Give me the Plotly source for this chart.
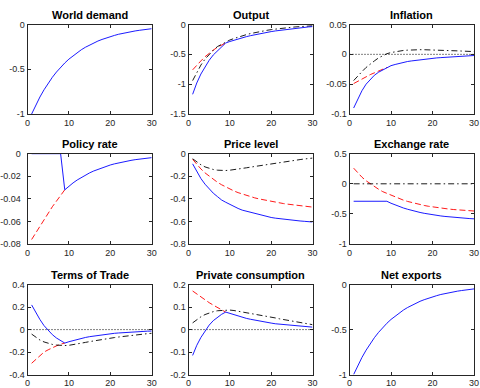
import plotly.graph_objects as go

# ---------------- data ----------------
periods = list(range(1, 31))

world_demand = [-1.000, -0.900, -0.810, -0.729, -0.656, -0.590, -0.531, -0.478, -0.430, -0.387,
                -0.349, -0.314, -0.282, -0.254, -0.229, -0.206, -0.185, -0.167, -0.150, -0.135,
                -0.122, -0.109, -0.098, -0.089, -0.080, -0.072, -0.065, -0.058, -0.052, -0.047]

output_blue = [-1.17, -0.98, -0.83, -0.71, -0.60, -0.51, -0.44, -0.37, -0.31, -0.285,
               -0.262, -0.241, -0.222, -0.204, -0.187, -0.171, -0.157, -0.144, -0.131, -0.119,
               -0.108, -0.098, -0.088, -0.079, -0.070, -0.062, -0.055, -0.048, -0.041, -0.035]
output_red = [-0.76, -0.68, -0.61, -0.54, -0.48, -0.43, -0.38, -0.34, -0.31]
output_black = [-0.94, -0.80, -0.68, -0.58, -0.50, -0.43, -0.37, -0.33, -0.29, -0.26,
                -0.235, -0.21, -0.19, -0.17, -0.152, -0.136, -0.122, -0.109, -0.097, -0.086,
                -0.076, -0.067, -0.059, -0.052, -0.046, -0.040, -0.035, -0.030, -0.026, -0.022]

inflation_blue = [-0.090, -0.074, -0.061, -0.050, -0.042, -0.035, -0.030, -0.026, -0.022, -0.019,
                  -0.017, -0.015, -0.013, -0.012, -0.011, -0.010, -0.009, -0.008, -0.0075, -0.007,
                  -0.006, -0.0055, -0.005, -0.0045, -0.004, -0.0035, -0.003, -0.0025, -0.002, -0.002]
inflation_red = [-0.049, -0.045, -0.041, -0.037, -0.034, -0.031, -0.028, -0.025, -0.022]
inflation_black = [-0.044, -0.036, -0.029, -0.022, -0.016, -0.011, -0.006, -0.002, 0.001, 0.003,
                   0.0045, 0.0055, 0.0065, 0.007, 0.0075, 0.0078, 0.0078, 0.0077, 0.0076, 0.0074,
                   0.0072, 0.007, 0.0067, 0.0064, 0.0061, 0.0058, 0.0055, 0.0052, 0.0049, 0.0046]

policy_blue = [0, 0, 0, 0, 0, 0, 0, 0, -0.032, -0.0288,
               -0.0259, -0.0233, -0.021, -0.0189, -0.017, -0.0153, -0.0138, -0.0124, -0.0112, -0.010,
               -0.009, -0.0081, -0.0073, -0.0066, -0.0059, -0.0053, -0.0048, -0.0043, -0.0039, -0.0035]
policy_red = [-0.076, -0.070, -0.064, -0.058, -0.052, -0.047, -0.042, -0.037, -0.032]

price_blue = [-0.09, -0.16, -0.22, -0.27, -0.31, -0.35, -0.38, -0.41, -0.43, -0.45,
              -0.47, -0.485, -0.50, -0.51, -0.52, -0.53, -0.54, -0.55, -0.558, -0.565,
              -0.571, -0.576, -0.581, -0.586, -0.590, -0.593, -0.596, -0.599, -0.602, -0.605]
price_red = [-0.05, -0.095, -0.135, -0.17, -0.20, -0.228, -0.253, -0.275, -0.295, -0.313,
             -0.33, -0.345, -0.358, -0.37, -0.381, -0.391, -0.40, -0.408, -0.416, -0.423,
             -0.43, -0.436, -0.442, -0.447, -0.452, -0.457, -0.461, -0.465, -0.469, -0.473]
price_black = [-0.045, -0.075, -0.098, -0.117, -0.131, -0.140, -0.146, -0.149, -0.149, -0.146,
               -0.142, -0.137, -0.131, -0.125, -0.119, -0.113, -0.107, -0.100, -0.094, -0.088,
               -0.082, -0.077, -0.071, -0.066, -0.061, -0.056, -0.052, -0.047, -0.043, -0.039]

exch_blue = [-0.29, -0.29, -0.29, -0.29, -0.29, -0.29, -0.29, -0.29, -0.29, -0.323,
             -0.352, -0.378, -0.402, -0.423, -0.443, -0.460, -0.476, -0.490, -0.503, -0.514,
             -0.525, -0.534, -0.542, -0.550, -0.557, -0.563, -0.568, -0.573, -0.578, -0.582]
exch_red = [0.26, 0.18, 0.11, 0.05, 0.00, -0.05, -0.09, -0.13, -0.16, -0.19,
            -0.22, -0.248, -0.272, -0.293, -0.313, -0.33, -0.346, -0.36, -0.373, -0.384,
            -0.395, -0.404, -0.412, -0.42, -0.427, -0.433, -0.438, -0.443, -0.448, -0.452]
exch_black = [0.0] * 30

tot_blue = [0.22, 0.15, 0.09, 0.035, -0.01, -0.045, -0.075, -0.10, -0.12, -0.108,
            -0.097, -0.087, -0.078, -0.070, -0.063, -0.057, -0.051, -0.046, -0.041, -0.037,
            -0.033, -0.030, -0.027, -0.024, -0.022, -0.020, -0.018, -0.016, -0.014, -0.013]
tot_red = [-0.30, -0.265, -0.23, -0.20, -0.18, -0.16, -0.145, -0.13, -0.12]
tot_black = [-0.04, -0.07, -0.093, -0.11, -0.123, -0.132, -0.138, -0.141, -0.142, -0.14,
             -0.135, -0.128, -0.121, -0.114, -0.107, -0.100, -0.094, -0.088, -0.082, -0.076,
             -0.071, -0.066, -0.061, -0.056, -0.052, -0.048, -0.044, -0.040, -0.036, -0.033]

cons_blue = [-0.115, -0.07, -0.035, -0.005, 0.02, 0.04, 0.055, 0.068, 0.078, 0.072,
             0.066, 0.06, 0.055, 0.05, 0.046, 0.042, 0.038, 0.035, 0.032, 0.029,
             0.026, 0.024, 0.022, 0.020, 0.018, 0.016, 0.015, 0.013, 0.012, 0.011]
cons_red = [0.172, 0.158, 0.145, 0.132, 0.12, 0.109, 0.099, 0.089, 0.078]
cons_black = [0.03, 0.045, 0.057, 0.067, 0.075, 0.08, 0.084, 0.086, 0.087, 0.087,
              0.085, 0.082, 0.079, 0.076, 0.073, 0.069, 0.066, 0.062, 0.059, 0.055,
              0.052, 0.048, 0.045, 0.042, 0.039, 0.036, 0.033, 0.028, 0.025, 0.022]

net_exports = [-1.000, -0.900, -0.810, -0.729, -0.656, -0.590, -0.531, -0.478, -0.430, -0.387,
               -0.349, -0.314, -0.282, -0.254, -0.229, -0.206, -0.185, -0.167, -0.150, -0.135,
               -0.122, -0.109, -0.098, -0.089, -0.080, -0.072, -0.065, -0.058, -0.052, -0.047]

zero_x = [0, 30]
zero_y = [0, 0]

x_ticks = [0, 10, 20, 30]
x_labels = ["0", "10", "20", "30"]

titles = ["World demand", "Output", "Inflation", "Policy rate", "Price level",
          "Exchange rate", "Terms of Trade", "Private consumption", "Net exports"]

y_ranges = [[-1, 0], [-1.5, 0], [-0.1, 0.05], [-0.08, 0], [-0.8, 0],
            [-1, 0.5], [-0.4, 0.4], [-0.2, 0.2], [-1, 0]]
y_ticks = [[-1, -0.5, 0], [-1.5, -1, -0.5, 0], [-0.1, -0.05, 0, 0.05],
           [-0.08, -0.06, -0.04, -0.02, 0], [-0.8, -0.6, -0.4, -0.2, 0],
           [-1, -0.5, 0, 0.5], [-0.4, -0.2, 0, 0.2, 0.4], [-0.2, -0.1, 0, 0.1, 0.2], [-1, -0.5, 0]]
y_labels = [["-1", "-0.5", "0"], ["-1.5", "-1", "-0.5", "0"], ["-0.1", "-0.05", "0", "0.05"],
            ["-0.08", "-0.06", "-0.04", "-0.02", "0"], ["-0.8", "-0.6", "-0.4", "-0.2", "0"],
            ["-1", "-0.5", "0", "0.5"], ["-0.4", "-0.2", "0", "0.2", "0.4"],
            ["-0.2", "-0.1", "0", "0.1", "0.2"], ["-1", "-0.5", "0"]]

series = [
    dict(blue=world_demand),
    dict(red=output_red, black=output_black, blue=output_blue),
    dict(zero=True, red=inflation_red, black=inflation_black, blue=inflation_blue),
    dict(red=policy_red, blue=policy_blue),
    dict(red=price_red, black=price_black, blue=price_blue),
    dict(red=exch_red, black=exch_black, blue=exch_blue),
    dict(zero=True, red=tot_red, black=tot_black, blue=tot_blue),
    dict(zero=True, red=cons_red, black=cons_black, blue=cons_blue),
    dict(blue=net_exports),
]

# ---------------- layout geometry (pixels) ----------------
W, H = 480, 388
col_px = [(27.5, 151.7), (188.5, 312.5), (349.5, 474.0)]
row_px = [(24.5, 114.0), (153.7, 244.0), (284.7, 374.5)]

axis_col = "#262626"
styles = {
    "red": dict(color="#ff0000", width=0.9, dash="6px,3px"),
    "black": dict(color="#000000", width=0.9, dash="6px,3px,1.5px,3px"),
    "blue": dict(color="#0000ff", width=0.9),
}

fig = go.Figure()
layout = dict(
    width=W, height=H,
    margin=dict(l=0, r=0, t=0, b=0),
    paper_bgcolor="white", plot_bgcolor="white",
    showlegend=False,
    font=dict(family="Liberation Sans, Arial, sans-serif", size=9, color=axis_col),
)
annotations = []

for i in range(9):
    r, c = divmod(i, 3)
    sfx = "" if i == 0 else str(i + 1)
    xref, yref = "x" + sfx, "y" + sfx
    x0, x1 = col_px[c]
    y0, y1 = row_px[r]
    xd = [x0 / W, x1 / W]
    yd = [1 - y1 / H, 1 - y0 / H]
    common = dict(showline=True, linecolor=axis_col, linewidth=1, mirror="ticks",
                  ticks="inside", ticklen=3, tickwidth=1, tickcolor=axis_col,
                  showgrid=False, zeroline=False, automargin=False,
                  ticklabeloverflow="allow",
                  tickfont=dict(size=9, color=axis_col))
    layout["xaxis" + sfx] = dict(common, domain=xd, range=[0, 30], anchor=yref,
                                 tickmode="array", tickvals=x_ticks, ticktext=x_labels)
    layout["yaxis" + sfx] = dict(common, domain=yd, range=y_ranges[i], anchor=xref,
                                 tickmode="array", tickvals=y_ticks[i], ticktext=y_labels[i],
                                 ticklabelstandoff=(4 if i == 3 else 0))
    s = series[i]
    if s.get("zero"):
        fig.add_trace(go.Scatter(x=zero_x, y=zero_y, mode="lines", xaxis=xref, yaxis=yref,
                                 line=dict(color="#000000", width=1, dash="1px,2px"),
                                 hoverinfo="skip"))
    for key in ["red", "black", "blue"]:
        if key in s:
            vals = s[key]
            fig.add_trace(go.Scatter(x=periods[:len(vals)], y=vals, mode="lines",
                                     xaxis=xref, yaxis=yref, line=styles[key]))
    annotations.append(dict(text=titles[i], xref="paper", yref="paper",
                            x=(xd[0] + xd[1]) / 2, y=yd[1], xanchor="center", yanchor="bottom",
                            yshift=2, showarrow=False,
                            font=dict(size=11, color="#000000", weight="bold",
                                      family="Liberation Sans, Arial, sans-serif")))

layout["annotations"] = annotations
fig.update_layout(**layout)
fig.write_html("out.html", config={"displayModeBar": False},
               post_script="document.body.style.margin='0px';document.body.style.overflow='hidden';")
